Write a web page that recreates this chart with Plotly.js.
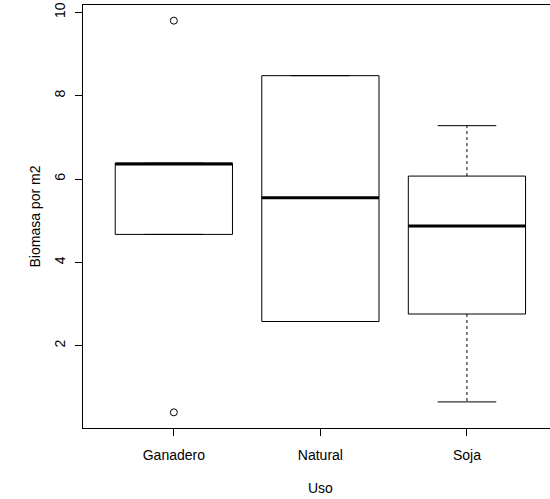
<!DOCTYPE html>
<html>
<head>
<meta charset="utf-8">
<script src="https://cdn.plot.ly/plotly-3.0.1.min.js"></script>
<style>
  html, body { margin: 0; padding: 0; background: #ffffff; overflow: hidden; }
  #chart { width: 550px; height: 499px; }
</style>
</head>
<body>
<div id="chart"></div>
<script>
// ---- data ----
var categories    = ["Ganadero", "Natural", "Soja"];
var lowerWhisker  = [4.67, 2.58, 0.65];
var q1            = [4.67, 2.58, 2.76];
var medians       = [6.36, 5.55, 4.87];
var q3            = [6.38, 8.48, 6.07];
var upperWhisker  = [6.38, 8.48, 7.28];
var outlierGroup  = ["Ganadero", "Ganadero"];
var outlierValues = [9.80, 0.40];
var yTicks        = [2, 4, 6, 8, 10];

// ---- build traces ----
var boxHalf = 0.4, capHalf = 0.2;
var traces = [];
var boxX = [], boxY = [], medX = [], medY = [], whX = [], whY = [], capX = [], capY = [];
categories.forEach(function (c, i) {
  var x = i + 1;
  boxX.push(x - boxHalf, x + boxHalf, x + boxHalf, x - boxHalf, x - boxHalf, null);
  boxY.push(q1[i], q1[i], q3[i], q3[i], q1[i], null);
  medX.push(x - boxHalf, x + boxHalf, null);
  medY.push(medians[i], medians[i], null);
  if (lowerWhisker[i] < q1[i]) { whX.push(x, x, null); whY.push(q1[i], lowerWhisker[i], null); }
  if (upperWhisker[i] > q3[i]) { whX.push(x, x, null); whY.push(q3[i], upperWhisker[i], null); }
  capX.push(x - capHalf, x + capHalf, null, x - capHalf, x + capHalf, null);
  capY.push(lowerWhisker[i], lowerWhisker[i], null, upperWhisker[i], upperWhisker[i], null);
});
traces.push({type: "scatter", mode: "lines", x: whX, y: whY, line: {color: "#000", width: 1, dash: "3px,3px"}, hoverinfo: "skip"});
traces.push({type: "scatter", mode: "lines", x: capX, y: capY, line: {color: "#000", width: 1}, hoverinfo: "skip"});
traces.push({type: "scatter", mode: "lines", x: boxX, y: boxY, line: {color: "#000", width: 1}, hoverinfo: "skip"});
traces.push({type: "scatter", mode: "lines", x: medX, y: medY, line: {color: "#000", width: 3}, hoverinfo: "skip"});
traces.push({
  type: "scatter", mode: "markers",
  x: outlierGroup.map(function (g) { return categories.indexOf(g) + 1; }),
  y: outlierValues,
  marker: {symbol: "circle-open", size: 7, color: "#000", line: {width: 1, color: "#000"}},
  hoverinfo: "skip"
});

var font = {family: "Liberation Sans, Arial, Helvetica, sans-serif", size: 14, color: "#000"};

var layout = {
  width: 550, height: 499,
  margin: {l: 83, r: 0, t: 5, b: 71, pad: 0},
  paper_bgcolor: "#fff", plot_bgcolor: "#fff",
  showlegend: false,
  font: font,
  xaxis: {
    type: "linear",
    range: [0.38, 0.38 + 467 / 146.54],
    tickvals: [1, 2, 3], ticktext: categories,
    ticks: "outside", ticklen: 7, tickwidth: 1, tickcolor: "#000",
    showline: true, linecolor: "#000", linewidth: 1, mirror: true,
    showgrid: false, zeroline: false,
    ticklabelstandoff: 7,
    tickfont: font
  },
  yaxis: {
    range: [0.024, 10.176],
    tickvals: yTicks,
    ticktext: yTicks.map(String),
    tickangle: -90,
    ticks: "outside", ticklen: 7, tickwidth: 1, tickcolor: "#000",
    showline: true, linecolor: "#000", linewidth: 1, mirror: false,
    showgrid: false, zeroline: false,
    ticklabelstandoff: 4,
    tickfont: font
  },
  annotations: [
    {text: "Uso", xref: "paper", yref: "paper", x: 0.5086, y: -0.1418,
     xanchor: "center", yanchor: "middle", showarrow: false, font: font},
    {text: "Biomasa por m2", xref: "paper", yref: "paper", x: -0.1028, y: 0.5,
     xanchor: "center", yanchor: "middle", textangle: -90, showarrow: false, font: font}
  ]
};

Plotly.newPlot("chart", traces, layout, {staticPlot: true, displayModeBar: false});
</script>
</body>
</html>
